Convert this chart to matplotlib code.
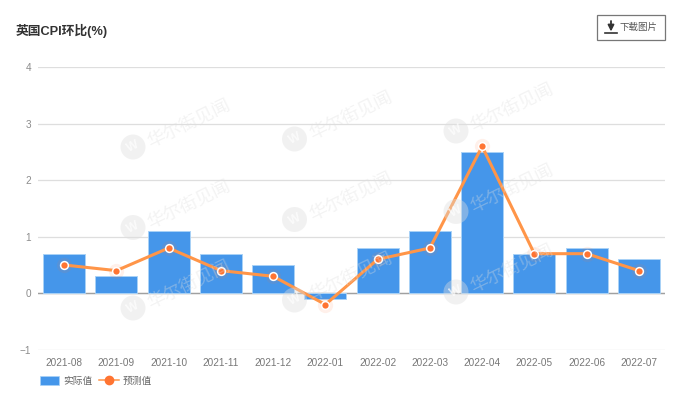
#!/usr/bin/env python3
import matplotlib
matplotlib.use('Agg')
import matplotlib.pyplot as plt
from matplotlib.lines import Line2D
from matplotlib.patches import Circle, FancyArrowPatch, Patch, Rectangle

plt.rcParams['font.family'] = ['Liberation Sans', 'Noto Sans CJK SC', 'DejaVu Sans']

months = ['2021-08', '2021-09', '2021-10', '2021-11', '2021-12', '2022-01',
          '2022-02', '2022-03', '2022-04', '2022-05', '2022-06', '2022-07']
actual = [0.7, 0.3, 1.1, 0.7, 0.5, -0.1, 0.8, 1.1, 2.5, 0.7, 0.8, 0.6]
forecast = [0.5, 0.4, 0.8, 0.4, 0.3, -0.2, 0.6, 0.8, 2.6, 0.7, 0.7, 0.4]
y_ticks = [-1, 0, 1, 2, 3, 4]

W, H = 680, 396
BLUE = '#4596EA'
LINE = '#FF9548'
DOT = '#FF7432'


def fx(px):
    return px / W


def fy(py):
    return 1 - py / H


fig = plt.figure(figsize=(W / 100, H / 100), dpi=100, facecolor='white')
ax = fig.add_axes([fx(38), fy(349.7), fx(665 - 38), (349.7 - 67.3) / H])

ax.bar(range(len(months)), actual, width=0.8, color=BLUE, edgecolor='#A9D2F7',
       linewidth=0.7, zorder=2)
# soft halo behind the line markers
ax.plot(range(len(months)), forecast, 'o', ms=11, color=DOT, alpha=0.1, mew=0, zorder=3)
ax.plot(range(len(months)), forecast, '-o', color=LINE, lw=2.2, ms=5.6, mfc=DOT,
        mec='white', mew=1.1, zorder=4)

ax.set_xlim(-0.5, len(months) - 0.5)
ax.set_ylim(-1, 4)
ax.set_yticks(y_ticks)
ax.set_xticks(range(len(months)))
ax.set_xticklabels(months)
ax.tick_params(axis='x', length=0, pad=6, labelsize=7.2, labelcolor='#777777')
ax.tick_params(axis='y', length=0, pad=5, labelsize=7.2, labelcolor='#8c8c8c')
ax.grid(axis='y', color='#DEDEDE', lw=0.9, zorder=0)
ax.set_axisbelow(True)
for side in ax.spines:
    ax.spines[side].set_visible(False)
ax.axhline(0, color='#A0A0A0', lw=1, zorder=1)

handles = [
    Patch(facecolor=BLUE, edgecolor='#A9D2F7', lw=0.5, label='实际值'),
    Line2D([], [], color=LINE, lw=1.1, marker='o', ms=6, mfc=DOT, mec=DOT, label='预测值'),
]
ax.legend(handles=handles, loc='lower left', bbox_to_anchor=(fx(38), fy(388)),
          bbox_transform=fig.transFigure, ncol=2, frameon=False, fontsize=7,
          labelcolor='#666666', handlelength=2.0, handleheight=1.0, handletextpad=0.4,
          columnspacing=0.7, borderpad=0.2, borderaxespad=0)

# title
fig.text(fx(16), fy(31), '英国CPI环比(%)', fontsize=9.2, fontweight='bold', color='#333333',
         ha='left', va='center')

# download button
fig.add_artist(Rectangle((fx(597), fy(40)), fx(68), 25 / H, transform=fig.transFigure,
                         facecolor='white', edgecolor='#777777', lw=0.9))
fig.add_artist(Line2D([fx(605), fx(617)], [fy(33), fy(33)], color='#333333', lw=1.2))
fig.add_artist(FancyArrowPatch((fx(611), fy(21)), (fx(611), fy(31.5)), transform=fig.transFigure,
                               arrowstyle='-|>', mutation_scale=9, color='#333333', lw=1.3,
                               shrinkA=0, shrinkB=0))
fig.text(fx(620), fy(27.5), '下载图片', fontsize=6.8, color='#555555', ha='left', va='center')

# watermarks sit over the whole plot
for row in range(3):
    for col in range(3):
        cx = 133 + col * 161.5
        cy = 147 + row * 80.5 - col * 8
        fig.add_artist(Circle((cx, H - cy), 12.5, transform=None, facecolor='#DEDEDE',
                              edgecolor='none', alpha=0.4, zorder=10))
        fig.text(fx(cx), fy(cy), 'W', fontsize=9, fontweight='bold', color='white', ha='center',
                 va='center', rotation=26, alpha=0.7, zorder=11)
        fig.text(fx(cx + 16), fy(cy - 3), '华尔街见闻', fontsize=13, color='#DEDEDE', alpha=0.35,
                 ha='left', va='center', rotation=26, rotation_mode='anchor', zorder=11)

fig.savefig('out.png', dpi=100, facecolor='white')
